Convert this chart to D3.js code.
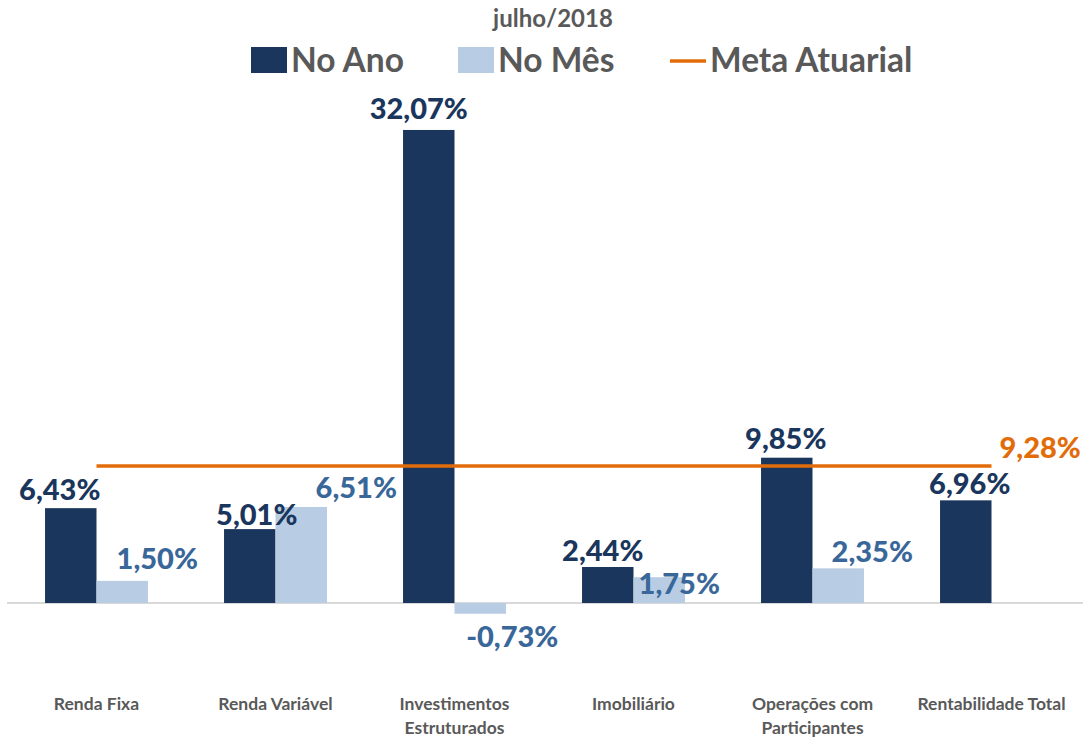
<!DOCTYPE html>
<html><head><meta charset="utf-8">
<script src="https://cdn.jsdelivr.net/npm/d3@7"></script>
<style>html,body{margin:0;padding:0;background:#fff;}svg{display:block;}</style>
</head><body>
<svg id="chart" width="1092" height="738"></svg>
<script>
// ---- data ----
const categories = ["Renda Fixa", "Renda Variável", "Investimentos Estruturados", "Imobiliário", "Operações com Participantes", "Rentabilidade Total"];
const categoryLines = [["Renda Fixa"], ["Renda Variável"], ["Investimentos", "Estruturados"], ["Imobiliário"], ["Operações com", "Participantes"], ["Rentabilidade Total"]];
const noAno = [6.43, 5.01, 32.07, 2.44, 9.85, 6.96];
const noMes = [1.50, 6.51, -0.73, 1.75, 2.35, null];
const metaAtuarial = 9.28;
const seriesNames = ["No Ano", "No Mês", "Meta Atuarial"];
const title = "julho/2018";

// ---- label nudges (layout, px) ----
const anoNudge = [[-11,0],[7,4],[-10,-3],[-5,2],[-1,-1],[4,2]];
const mesNudge = [[35,-4],[55,-1],[32,3],[20,25],[34,2],[0,0]];

const C = {dark:"#1B365D", light:"#B8CCE4", lightText:"#3A6799", orange:"#E36C0A", gray:"#595959", axis:"#D9D9D9"};
const FONT = "Lato, 'Open Sans', sans-serif";
const fmt = v => v.toFixed(2).replace(".", ",") + "%";

const svg = d3.select("#chart");
const x = d3.scaleBand().domain(categories).range([7, 1081]).paddingInner(0.425).paddingOuter(0.2125);
const xs = d3.scaleBand().domain(["ano","mes"]).range([0, x.bandwidth()]);
const y = d3.scaleLinear().domain([-6, 34]).range([603 + 6*14.75, 603 - 34*14.75]);

// zero line
svg.append("line").attr("x1", 7).attr("x2", 1083).attr("y1", y(0)).attr("y2", y(0))
  .attr("stroke", C.axis).attr("stroke-width", 2);

const g = svg.append("g");
// bars
categories.forEach((c, i) => {
  const vA = noAno[i];
  g.append("rect").attr("x", x(c) + xs("ano")).attr("width", xs.bandwidth())
    .attr("y", y(Math.max(0, vA))).attr("height", Math.abs(y(vA) - y(0))).attr("fill", C.dark);
  const vM = noMes[i];
  if (vM != null) {
    g.append("rect").attr("x", x(c) + xs("mes")).attr("width", xs.bandwidth())
      .attr("y", y(Math.max(0, vM))).attr("height", Math.abs(y(vM) - y(0))).attr("fill", C.light);
  }
});

// meta line
const xc = c => x(c) + x.bandwidth() / 2;
svg.append("line").attr("x1", xc(categories[0])).attr("x2", xc(categories[categories.length-1]))
  .attr("y1", y(metaAtuarial)).attr("y2", y(metaAtuarial))
  .attr("stroke", C.orange).attr("stroke-width", 3.5);

// labels
const lab = svg.append("g").attr("font-family", FONT).attr("font-weight", 900).attr("font-size", 29).attr("text-anchor", "middle");
categories.forEach((c, i) => {
  const vA = noAno[i];
  lab.append("text").attr("x", x(c) + xs("ano") + xs.bandwidth()/2 + anoNudge[i][0])
    .attr("y", y(vA) - 8 + anoNudge[i][1]).attr("fill", C.dark).text(fmt(vA));
  const vM = noMes[i];
  if (vM != null) {
    const base = vM >= 0 ? y(vM) - 8 : y(vM) + 30;
    lab.append("text").attr("x", x(c) + xs("mes") + xs.bandwidth()/2 + mesNudge[i][0])
      .attr("y", base + mesNudge[i][1]).attr("fill", C.lightText).text(fmt(vM));
  }
});
lab.append("text").attr("x", xc(categories[categories.length-1]) + 8).attr("y", y(metaAtuarial) - 8)
  .attr("text-anchor", "start").attr("fill", C.orange).text(fmt(metaAtuarial));

// category labels
const cl = svg.append("g").attr("font-family", FONT).attr("font-weight", 700).attr("font-size", 17.5)
  .attr("fill", C.gray).attr("text-anchor", "middle");
categories.forEach((c, i) => {
  const t = cl.append("text").attr("x", xc(c)).attr("y", 710);
  categoryLines[i].forEach((ln, j) => t.append("tspan").attr("x", xc(c)).attr("dy", j ? 24 : 0).text(ln));
});

// title
svg.append("text").attr("x", 553).attr("y", 27).attr("text-anchor", "middle")
  .attr("font-family", FONT).attr("font-weight", 700).attr("font-size", 24).attr("fill", C.gray).text(title);

// legend
const lg = svg.append("g").attr("font-family", FONT).attr("font-weight", 700).attr("font-size", 33.5).attr("fill", C.gray);
const legX = [251, 458, 670];
lg.append("rect").attr("x", legX[0]).attr("y", 47).attr("width", 36).attr("height", 26).attr("fill", C.dark);
lg.append("text").attr("x", legX[0] + 40).attr("y", 72).text(seriesNames[0]);
lg.append("rect").attr("x", legX[1]).attr("y", 47).attr("width", 36).attr("height", 26).attr("fill", C.light);
lg.append("text").attr("x", legX[1] + 40).attr("y", 72).text(seriesNames[1]);
lg.append("line").attr("x1", legX[2]).attr("x2", legX[2] + 36).attr("y1", 61).attr("y2", 61).attr("stroke", C.orange).attr("stroke-width", 3.5);
lg.append("text").attr("x", legX[2] + 40).attr("y", 72).text(seriesNames[2]);
</script>
</body></html>
